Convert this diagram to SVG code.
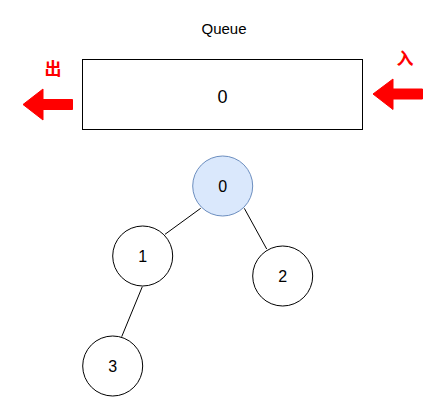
<svg xmlns="http://www.w3.org/2000/svg" width="429" height="412" viewBox="0 0 429 412">
<style>
  text { font-family: "Liberation Sans", Arial, sans-serif; fill: #000; text-anchor: middle; }
  .node { fill: #ffffff; stroke: #000; stroke-width: 1; }
  .root { fill: #dae8fc; stroke: #6c8ebf; stroke-width: 1; }
  .edge { stroke: #000; stroke-width: 1; fill: none; }
  .arrow { fill: #ff0000; stroke: #ff0000; stroke-width: 1; }
  .cjk { font-family: "Noto Sans CJK SC", sans-serif; fill: #ff0000; font-weight: bold; font-size: 17px; }
  .lbl { font-size: 16px; }
</style>
<rect width="429" height="412" fill="#ffffff"/>
<g id="queue">
  <text x="224" y="34" font-size="15">Queue</text>
  <rect x="82.5" y="59.5" width="280" height="70" fill="#ffffff" stroke="#000" stroke-width="1"/>
  <text x="222.5" y="102.5" font-size="18">0</text>
</g>
<g id="out">
  <polygon class="arrow" points="23,104.5 43,89 43,99.5 72.5,99.5 72.5,109.5 43,109.5 43,120"/>
  <text class="cjk" x="53" y="75">出</text>
</g>
<g id="in">
  <polygon class="arrow" points="373,94 393,79 393,89 422.5,89 422.5,99 393,99 393,109.5"/>
  <text class="cjk" x="405" y="65">入</text>
</g>
<g id="connectors">
  <line class="edge" x1="200.7" y1="208.3" x2="165" y2="234.3"/>
  <line class="edge" x1="244.3" y1="208.3" x2="266.7" y2="249"/>
  <line class="edge" x1="142.3" y1="286.7" x2="121.7" y2="336.7"/>
</g>
<g id="node0">
  <circle class="root" cx="222.7" cy="186" r="30"/>
  <text class="lbl" x="222.7" y="191.5">0</text>
</g>
<g id="node1">
  <circle class="node" cx="142.7" cy="256" r="30"/>
  <text class="lbl" x="142.7" y="261.5">1</text>
</g>
<g id="node2">
  <circle class="node" cx="282.7" cy="276" r="30"/>
  <text class="lbl" x="282.7" y="281.5">2</text>
</g>
<g id="node3">
  <circle class="node" cx="112.7" cy="366" r="30"/>
  <text class="lbl" x="112.7" y="371.5">3</text>
</g>
</svg>
